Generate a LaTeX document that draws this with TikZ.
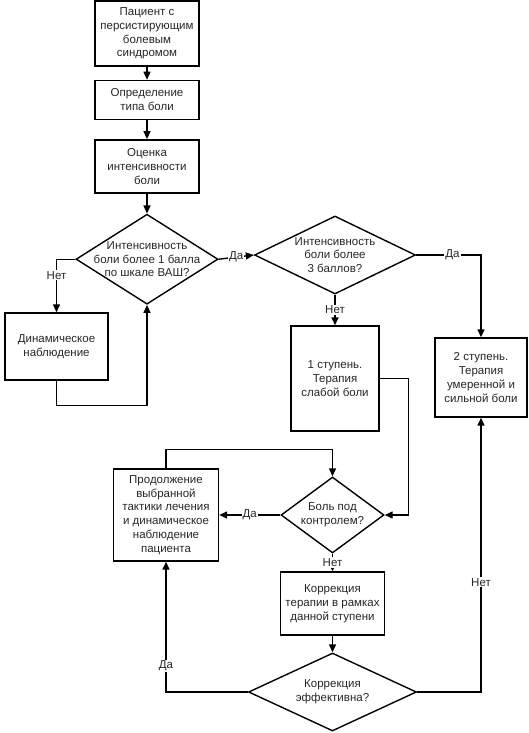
\documentclass[tikz,border=0pt]{standalone}
\usepackage{fontspec}
\setmainfont{Liberation Sans}
\usetikzlibrary{shapes.geometric, arrows.meta, positioning}
\tikzset{
  block/.style={
    rectangle, draw=black, line width=1.4pt, align=center, inner sep=2pt
  },
  decision/.style={
    diamond, draw=black, line width=1.4pt, inner sep=0pt
  },
  arrow/.style={-{Triangle[length=8pt, width=7pt]}, line width=1.4pt},
  answer/.style={fill=white, inner sep=1pt}
}

\begin{document}
\begin{tikzpicture}[x=1pt, y=-1pt, font=\fontsize{11.5}{13.8}\selectfont, text=black!85]
  \useasboundingbox (0,0) rectangle (528,733);

  % main column
  \node[block, minimum width=104pt, minimum height=65pt] (pat) at (147,33.5)
    {Пациент с\\персистирующим\\болевым\\синдромом};
  \node[block, minimum width=104pt, minimum height=39pt, below=13pt of pat] (type)
    {Определение\\типа боли};
  \node[block, minimum width=104pt, minimum height=53pt, below=19pt of type] (est)
    {Оценка\\интенсивности\\боли};
  \node[decision, minimum width=142pt, minimum height=90pt, below=20pt of est,
    label={[align=center]center:Интенсивность\\боли более 1 балла\\по шкале ВАШ?}] (vas) {};
  \node[block, minimum width=103pt, minimum height=67pt] (dyn) at (56.5,346.5)
    {Динамическое\\наблюдение};

  % grading of the pain
  \node[decision, minimum width=161pt, minimum height=78pt,
    label={[align=center]center:Интенсивность\\боли более\\3 баллов?}] (grade) at (335,255) {};
  \node[block, minimum width=88pt, minimum height=105pt] (step1) at (335,378.5)
    {1 ступень.\\Терапия\\слабой боли};
  \node[block, minimum width=92pt, minimum height=79pt] (step2) at (481,377.5)
    {2 ступень.\\Терапия\\умеренной и\\сильной боли};

  % control loop
  \node[decision, minimum width=103pt, minimum height=76pt,
    label={[align=center]center:Боль под\\контролем?}] (ctrl) at (332.5,515) {};
  \node[block, minimum width=105pt, minimum height=92pt] (cont) at (166,515)
    {Продолжение\\выбранной\\тактики лечения\\и динамическое\\наблюдение\\пациента};
  \node[block, minimum width=104pt, minimum height=63pt] (corr) at (332.5,603.5)
    {Коррекция\\терапии в рамках\\данной ступени};
  \node[decision, minimum width=168pt, minimum height=78pt,
    label={[align=center]center:Коррекция\\эффективна?}] (eff) at (332.5,692) {};

  \foreach \from/\to in {pat/type,type/est,est/vas,corr/eff}
    \draw[arrow] (\from) -- (\to);

  \draw[arrow] (vas.west) -| node[answer, pos=0.65] {Нет} (dyn.north);
  \draw[arrow] (dyn.south) -- ++(0,25) -| (vas.south);
  \draw[arrow] (vas.east) -- node[answer] {Да} (grade.west);
  \draw[arrow] (grade.south) -- node[answer] {Нет} (step1.north);
  \draw[arrow] (grade.east) -| node[answer, pos=0.28] {Да} (step2.north);
  \draw[arrow] (step1.east) -- ++(29,0) |- (ctrl.east);
  \draw[arrow] (ctrl.west) -- node[answer] {Да} (cont.east);
  \draw[arrow] (cont.north) -- ++(0,-19) -| (ctrl.north);
  \draw[arrow] (ctrl.south) -- node[answer] {Нет} (corr.north);
  \draw[arrow] (eff.west) -| node[answer, pos=0.6] {Да} (cont.south);
  \draw[arrow] (eff.east) -| node[answer, pos=0.7] {Нет} (step2.south);
\end{tikzpicture}
\end{document}
